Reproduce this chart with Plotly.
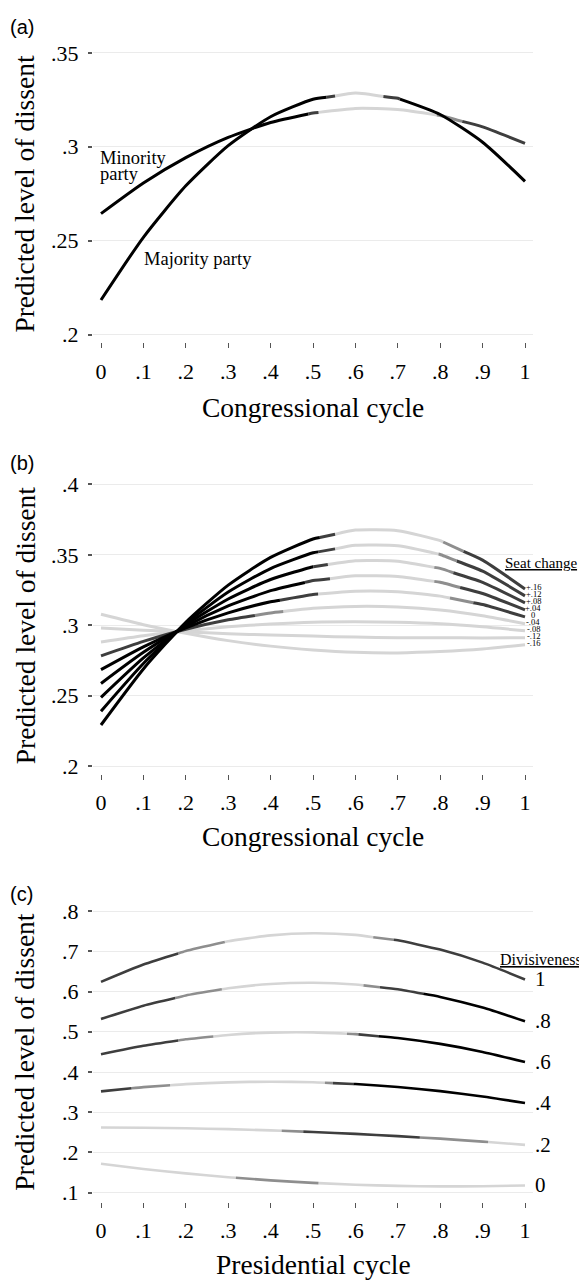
import numpy as np
import plotly.graph_objects as go

# ---------------- data ----------------
CYCLE = [0, .1, .2, .3, .4, .5, .6, .7, .8, .9, 1]
X_TICKTEXT = ["0", ".1", ".2", ".3", ".4", ".5", ".6", ".7", ".8", ".9", "1"]

# panel (a): congressional cycle, majority vs minority party
A_MAJORITY = [.2184, .2518, .2792, .3006, .3160, .3253, .3286, .3258, .3172, .3024, .2816]
A_MINORITY = [.2644, .2807, .2942, .3050, .3129, .3180, .3204, .3199, .3167, .3106, .3018]
A_MAJORITY_BREAKS = [0, .532, .552, .666, .705, 1]
A_MAJORITY_SHADES = ["k", "d", "l", "d", "k"]
A_MINORITY_BREAKS = [0, .489, .513, .792, .852, 1]
A_MINORITY_SHADES = ["k", "d", "l", "m", "d"]
A_YTICKS = [.2, .25, .3, .35]
A_YTICKTEXT = [".2", ".25", ".3", ".35"]

# panel (b): congressional cycle by seat change
B_SEAT_LABELS = ["+.16", "+.12", "+.08", "+.04", "0", "-.04", "-.08", "-.12", "-.16"]
B_P16 = [.2292, .2690, .3021, .3285, .3482, .3613, .3676, .3672, .3601, .3463, .3258]
B_P12 = [.2390, .2729, .3011, .3236, .3403, .3515, .3568, .3564, .3503, .3384, .3209]
B_P08 = [.2488, .2768, .3002, .3187, .3325, .3416, .3459, .3455, .3404, .3305, .3159]
B_P04 = [.2587, .2808, .2992, .3137, .3246, .3318, .3351, .3347, .3306, .3226, .3110]
B_Z00 = [.2685, .2847, .2982, .3088, .3167, .3219, .3242, .3238, .3207, .3147, .3060]
B_M04 = [.2783, .2886, .2972, .3039, .3088, .3121, .3134, .3130, .3109, .3068, .3011]
B_M08 = [.2882, .2926, .2962, .2989, .3009, .3022, .3025, .3021, .3010, .2989, .2961]
B_M12 = [.2980, .2965, .2953, .2940, .2931, .2923, .2916, .2912, .2912, .2910, .2912]
B_M16 = [.3078, .3004, .2943, .2891, .2852, .2825, .2808, .2804, .2813, .2831, .2862]
B_P16_BREAKS = [0, .516, .552, .807, .855, 1]
B_P12_BREAKS = [0, .512, .552, .796, .839, 1]
B_P08_BREAKS = [0, .501, .535, .786, .831, 1]
B_P04_BREAKS = [0, .481, .540, .786, .847, 1]
B_Z00_BREAKS = [0, .422, .512, .823, .878, 1]
B_POS_SHADES = ["k", "d", "l", "m", "d"]
B_M04_BREAKS = [0, .363, .430, 1]
B_M04_SHADES = ["d", "m", "l"]
B_LIGHT_BREAKS = [0, 1]
B_LIGHT_SHADES = ["l"]
B_YTICKS = [.2, .25, .3, .35, .4]
B_YTICKTEXT = [".2", ".25", ".3", ".35", ".4"]

# panel (c): presidential cycle by divisiveness
C_DIV_LABELS = ["1", ".8", ".6", ".4", ".2", "0"]
C_D10 = [.624, .6671, .7007, .7249, .7397, .7450, .7409, .7273, .7043, .6719, .630]
C_D08 = [.532, .5649, .5903, .6083, .6189, .6220, .6177, .6059, .5867, .5601, .526]
C_D06 = [.444, .4652, .4813, .4922, .4980, .4986, .4942, .4846, .4699, .4500, .425]
C_D04 = [.352, .3624, .3699, .3744, .3760, .3746, .3702, .3628, .3525, .3393, .323]
C_D02 = [.262, .2615, .2602, .2580, .2549, .2510, .2463, .2408, .2344, .2271, .219]
C_D00 = [.172, .1592, .1481, .1386, .1307, .1245, .1199, .1170, .1157, .1160, .118]
C_D10_BREAKS = [0, .182, .292, .642, .690, 1]
C_D10_SHADES = ["d", "m", "l", "m", "d"]
C_D08_BREAKS = [0, .175, .285, .619, .658, .760, 1]
C_D08_SHADES = ["d", "m", "l", "m", "d", "k"]
C_D06_BREAKS = [0, .182, .265, .580, .607, .654, 1]
C_D06_SHADES = ["d", "m", "l", "m", "d", "k"]
C_D04_BREAKS = [0, .072, .163, .528, .547, .595, 1]
C_D04_SHADES = ["d", "m", "l", "m", "d", "k"]
C_D02_BREAKS = [0, .426, .477, .752, .913, 1]
C_D02_SHADES = ["l", "m", "d", "m", "l"]
C_D00_BREAKS = [0, .318, .513, 1]
C_D00_SHADES = ["l", "m", "l"]
C_YTICKS = [.1, .2, .3, .4, .5, .6, .7, .8]
C_YTICKTEXT = [".1", ".2", ".3", ".4", ".5", ".6", ".7", ".8"]

# ---------------- styling / layout helpers ----------------
# The page body has an 8px margin; positions below are given in window pixels
# and shifted by that margin.
OFF = 8
W, H = 587 - OFF, 1285 - OFF
SHADE = {"k": "#000000", "d": "#3e3e3e", "m": "#8e8e8e", "l": "#d5d5d5"}
ORDER = {"l": 0, "m": 1, "d": 2, "k": 3}
SERIF = "Liberation Serif, Times New Roman, serif"
SANS = "Liberation Sans, Arial, sans-serif"


def px(x):
    return (x - OFF) / W


def py(y):
    return 1 - (y - OFF) / H


fig = go.Figure()


def add_curve(xaxis, yaxis, ys, breaks, shades, width, store):
    for a, b, s in zip(breaks[:-1], breaks[1:], shades):
        pts = [a] + [x for x in CYCLE if a < x < b] + [b]
        yv = np.interp(pts, CYCLE, ys)
        store.append((ORDER[s], dict(x=pts, y=list(yv), xaxis=xaxis, yaxis=yaxis,
                                     color=SHADE[s], width=width)))


segments = []
add_curve("x", "y", A_MAJORITY, A_MAJORITY_BREAKS, A_MAJORITY_SHADES, 3, segments)
add_curve("x", "y", A_MINORITY, A_MINORITY_BREAKS, A_MINORITY_SHADES, 3, segments)

b_series = [B_P16, B_P12, B_P08, B_P04, B_Z00, B_M04, B_M08, B_M12, B_M16]
b_breaks = [B_P16_BREAKS, B_P12_BREAKS, B_P08_BREAKS, B_P04_BREAKS, B_Z00_BREAKS,
            B_M04_BREAKS, B_LIGHT_BREAKS, B_LIGHT_BREAKS, B_LIGHT_BREAKS]
b_shades = [B_POS_SHADES] * 5 + [B_M04_SHADES, B_LIGHT_SHADES, B_LIGHT_SHADES, B_LIGHT_SHADES]
for ys, br, sh in zip(b_series, b_breaks, b_shades):
    add_curve("x2", "y2", ys, br, sh, 3, segments)

c_series = [C_D10, C_D08, C_D06, C_D04, C_D02, C_D00]
c_breaks = [C_D10_BREAKS, C_D08_BREAKS, C_D06_BREAKS, C_D04_BREAKS, C_D02_BREAKS, C_D00_BREAKS]
c_shades = [C_D10_SHADES, C_D08_SHADES, C_D06_SHADES, C_D04_SHADES, C_D02_SHADES, C_D00_SHADES]
for ys, br, sh in zip(c_series, c_breaks, c_shades):
    add_curve("x3", "y3", ys, br, sh, 2.6, segments)

for _, s in sorted(segments, key=lambda t: t[0]):
    fig.add_trace(go.Scatter(x=s["x"], y=s["y"], xaxis=s["xaxis"], yaxis=s["yaxis"],
                             mode="lines", line=dict(color=s["color"], width=s["width"],
                                                     shape="spline", smoothing=0.6),
                             hoverinfo="skip", showlegend=False))

# axes (window pixels)
X_LEFT, X_RIGHT = 93, 533          # edges of plotting area
X0, X1 = 101, 525                  # position of cycle 0 and 1
ppu = X1 - X0
xrange_ = [(X_LEFT - X0) / ppu, 1 + (X_RIGHT - X1) / ppu]
xdomain = [px(X_LEFT), px(X_RIGHT)]

panels = [
    # (top px, bottom px, px of top tick, px of bottom tick, top val, bottom val, ticks, text)
    (40, 336, 43.3, 328.3, .35, .2, A_YTICKS, A_YTICKTEXT),
    (477, 773, 480, 765, .4, .2, B_YTICKS, B_YTICKTEXT),
    (909, 1206, 911.7, 1196.7, .8, .1, C_YTICKS, C_YTICKTEXT),
]

tickfont = dict(family=SERIF, size=22, color="#000000")
for i, (top, bot, ptop, pbot, vtop, vbot, tv, tt) in enumerate(panels, start=1):
    scale = (vtop - vbot) / (pbot - ptop)
    yr = [vbot - (bot - pbot) * scale, vtop + (ptop - top) * scale]
    sfx = "" if i == 1 else str(i)
    fig.layout["xaxis" + sfx] = dict(
        domain=xdomain, range=xrange_, anchor="y" + sfx,
        tickmode="array", tickvals=CYCLE, ticktext=X_TICKTEXT,
        ticks="outside", ticklen=5, tickwidth=1, tickcolor="#555555",
        showgrid=False, zeroline=False, showline=False, tickfont=tickfont,
        ticklabelstandoff=4, fixedrange=True)
    fig.layout["yaxis" + sfx] = dict(
        domain=[py(bot), py(top)], range=yr, anchor="x" + sfx,
        tickmode="array", tickvals=tv, ticktext=tt,
        ticks="outside", ticklen=4, tickwidth=1.5, tickcolor="#555555",
        showgrid=True, gridcolor="#ebebeb", gridwidth=1,
        zeroline=False, showline=False, tickfont=tickfont,
        ticklabelstandoff=5, fixedrange=True)

ann = []


def text(x, y, t, size, family=SERIF, xanchor="center", angle=0, **kw):
    ann.append(dict(x=px(x), y=py(y), xref="paper", yref="paper", text=t,
                    showarrow=False, xanchor=xanchor, yanchor="middle", textangle=angle,
                    font=dict(family=family, size=size, color="#000000"), **kw))


# panel labels
text(8, 17.5, "(a)", 20, SANS, "left")
text(8, 458, "(b)", 20, SANS, "left")
text(8, 894, "(c)", 20, SANS, "left")

# axis titles
for yc in [185.7, 622.5, 1054]:
    text(25, yc, "Predicted level of dissent", 27.5, angle=-90)
text(313, 402, "Congressional cycle", 27.5)
text(313, 836, "Congressional cycle", 27.5)
text(313, 1269, "Presidential cycle", 27.5)

# panel (a) curve labels
text(98, 149.3, "Minority", 18.5, xanchor="left")
text(98, 166, "party", 18.5, xanchor="left")
text(142, 252.3, "Majority party", 18.5, xanchor="left")

# panel (b) legend
text(540.5, 559.3, "<u>Seat change</u>", 15)
for lab, ys in zip(B_SEAT_LABELS, b_series):
    ann.append(dict(x=px(533), y=ys[-1], xref="paper", yref="y2", text=lab,
                    showarrow=False, xanchor="center", yanchor="middle", yshift=1.5,
                    font=dict(family=SERIF, size=8.5, color="#000000")))

# panel (c) legend
text(584, 960.7, "<u>Divisiveness</u>", 16, xanchor="right")
for lab, ys in zip(C_DIV_LABELS, c_series):
    ann.append(dict(x=px(533), y=ys[-1], xref="paper", yref="y3", text=lab,
                    showarrow=False, xanchor="left", yanchor="middle",
                    font=dict(family=SERIF, size=21, color="#000000")))

fig.update_layout(width=W, height=H, margin=dict(l=0, r=0, t=0, b=0),
                  paper_bgcolor="white", plot_bgcolor="white",
                  annotations=ann, showlegend=False)

fig.write_html("out.html")
